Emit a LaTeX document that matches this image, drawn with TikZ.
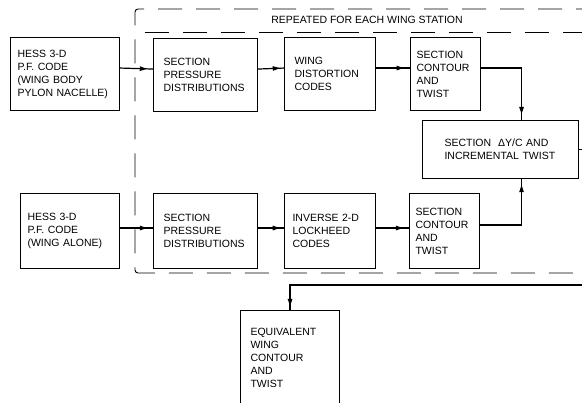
\documentclass[tikz,border=0pt]{standalone}
\usepackage{fontspec}
\setmainfont{Liberation Sans}
\usetikzlibrary{arrows.meta,positioning,calc,decorations.markings}

\begin{document}
\begin{tikzpicture}[x=1pt, y=-1pt,
  box/.style={draw, line width=1.1pt, anchor=north west, align=left,
    font=\fontsize{10.5}{13}\selectfont, inner ysep=0pt},
  frame/.style={line width=0.9pt, dash pattern=on 24pt off 14pt},
  flow/.style={line width=1.2pt, postaction={decorate},
    decoration={markings, mark=at position #1 with
      {\fill (-4pt,-2.4pt) -- (3pt,0pt) -- (-4pt,2.4pt) -- cycle;}}},
  flow/.default=0.72]
\useasboundingbox (0,0) rectangle (582,403);
\clip (0,0) rectangle (582,403);

% repeated region
\draw[frame, rounded corners=3pt] (600,9) -- (135,9) -- (135,273) -- (600,273);
\draw[frame] (145,32) -- (600,32);
\node[font=\fontsize{10.5}{13}\selectfont] (title) at (367,20) {REPEATED FOR EACH WING STATION};

% upper row
\node[box, minimum width=109pt, minimum height=73pt, text width=95pt, inner xsep=7pt] (hessA) at (10,37)
  {HESS 3-D\\P.F. CODE\\(WING BODY\\PYLON NACELLE)};
\node[box, minimum width=104pt, minimum height=73pt, text width=84pt, inner xsep=10pt] (presA) at (153,38)
  {SECTION\\PRESSURE\\DISTRIBUTIONS};
\node[box, minimum width=91pt, minimum height=73pt, text width=71pt, inner xsep=10pt] (distort) at (284,37)
  {WING\\DISTORTION\\CODES};
\node[box, minimum width=70pt, minimum height=73pt, text width=58pt, inner xsep=6pt] (contA) at (410,37)
  {SECTION\\CONTOUR\\AND\\TWIST};

% merge
\node[box, minimum width=156pt, minimum height=58pt, text width=112pt, inner xsep=22pt] (delta) at (422,120)
  {SECTION \ ΔY/C AND\\INCREMENTAL TWIST};

% lower row
\node[box, minimum width=99pt, minimum height=75pt, text width=85pt, inner xsep=7pt] (hessB) at (20,193)
  {HESS 3-D\\P.F. CODE\\(WING ALONE)};
\node[box, minimum width=104pt, minimum height=75pt, text width=84pt, inner xsep=10pt] (presB) at (153,193)
  {SECTION\\PRESSURE\\DISTRIBUTIONS};
\node[box, minimum width=91pt, minimum height=75pt, text width=75pt, inner xsep=8pt] (inverse) at (284,193)
  {INVERSE 2-D\\LOCKHEED\\CODES};
\node[box, minimum width=70pt, minimum height=75pt, text width=58pt, inner xsep=6pt] (contB) at (409,193)
  {SECTION\\CONTOUR\\AND\\TWIST};

% result
\node[box, minimum width=99pt, minimum height=95pt, text width=79pt, inner xsep=10pt] (equiv) at (240,310)
  {EQUIVALENT\\WING\\CONTOUR\\AND\\TWIST};

\coordinate (loop) at (598,285);

\draw[flow] ([yshift=6pt]hessA.east) -- ([yshift=6pt]presA.west);
\draw[flow] ([yshift=6pt]presA.east) -- ([yshift=6pt]distort.west);
\draw[flow] ([yshift=6pt]distort.east) -- ([yshift=6pt]contA.west);
\draw[flow] ([yshift=3pt]hessB.east) -- ([yshift=3pt]presB.west);
\draw[flow] ([yshift=3pt]presB.east) -- ([yshift=3pt]inverse.west);
\draw[flow] ([yshift=3pt]inverse.east) -- ([yshift=3pt]contB.west);
\draw[flow=-9pt] ([yshift=6pt]contA.east) -| ([xshift=21pt]delta.north);
\draw[flow=-9pt] ([yshift=6pt]contB.east) -| ([xshift=21pt]delta.south);
\draw[flow=-7pt] (delta.east) -| (loop) -| (equiv.north);
\end{tikzpicture}
\end{document}
